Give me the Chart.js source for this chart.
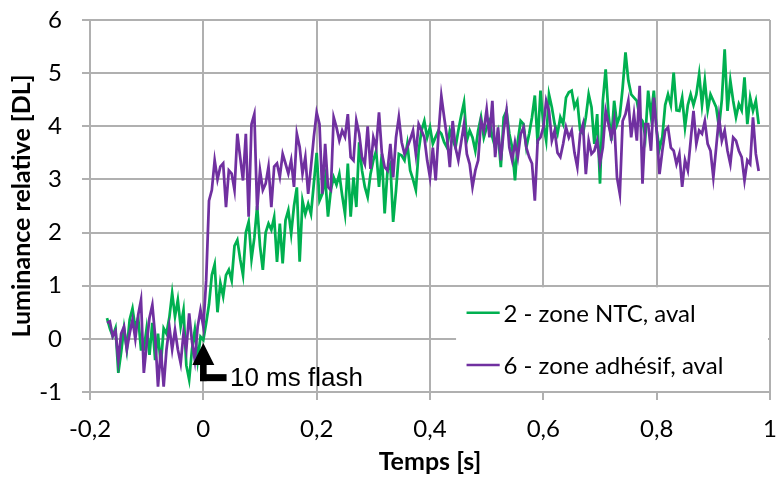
<!DOCTYPE html>
<html><head><meta charset="utf-8">
<script src="https://cdn.jsdelivr.net/npm/chart.js@4/dist/chart.umd.min.js"></script>
<style>html,body{margin:0;padding:0;background:#fff}#wrap{width:776px;height:478px}</style>
</head><body><div id="wrap"><canvas id="c" width="776" height="478"></canvas></div>
<script>
// ---- data ----
const seriesNames = ['2 - zone NTC, aval', '6 - zone adhésif, aval'];
const tStart = -0.17, tStep = 0.005;   // sampling grid of the time axis [s]
const zoneNTC = [
 0.39,0.2,0.05,0.2,-0.64,-0.25,0.2,-0.2,0.36,0.57,0.2,0.4,-0.2,-0.2,0.2,-0.3,0.3,-0.4,0.1,-0.5,0.2,0.1,0.4,0.86,0.42,0.73,0.23,0.54,-0.5,-0.77,-0.2,0.17,-0.4,0.04,-0.02,
 0.3,0.65,1.2,1.4,0.5,1.05,0.8,1.2,1.3,1.1,1.75,1.86,1.5,1.2,2.0,2.2,1.5,1.9,2.5,1.75,1.3,2.0,2.17,2.05,2.29,1.45,2.17,1.42,2.23,2.42,1.98,2.5,2.85,1.45,2.6,2.35,2.54,2.35,2.92,3.5,2.6,2.73,3.04,2.3,2.8,3.04,2.9,
 3.1,2.7,2.35,3.3,2.3,3.04,2.48,3.7,3.17,2.86,2.67,3.1,3.36,3.54,2.86,3.48,2.36,3.17,3.29,2.2,2.79,3.48,3.45,3.36,3.67,3.17,3.0,2.8,3.54,3.92,4.1,3.79,3.98,3.67,3.8,3.92,3.86,3.7,3.6,3.92,3.75,3.6,3.92,4.2,4.45,3.73,3.92,3.79,
 3.54,3.92,4.17,3.79,3.98,4.1,3.8,3.6,3.86,3.23,4.17,4.29,3.86,3.6,2.98,3.73,4.1,4.04,3.6,3.86,4.17,4.58,3.67,4.67,4.04,3.73,4.6,4.36,4.04,3.86,4.17,4.04,4.54,4.64,4.67,4.36,4.48,3.92,3.86,4.17,4.6,4.36,3.67,4.23,2.92,4.48,5.07,4.23,3.73,4.48,4.04,
 4.2,4.73,5.39,4.86,4.6,4.54,4.48,4.17,4.1,3.8,4.67,4.2,4.67,3.92,3.58,3.8,4.4,4.6,4.4,5.01,4.3,4.29,4.54,3.98,4.4,4.6,4.4,4.6,4.98,4.4,4.86,4.3,4.6,4.48,4.36,3.98,4.5,5.45,4.29,4.86,4.48,4.17,4.42,4.3,4.92,4.04,4.54,4.29,4.48,4.04
];
const zoneAdhesif = [
 0.3,0.33,0.05,0.15,-0.4,0.1,0.23,-0.2,0.1,0.36,0.0,0.45,0.73,-0.64,-0.1,0.4,0.64,0.05,-0.9,-0.2,-0.9,-0.2,0.23,-0.2,0.17,-0.2,-0.46,0.1,-0.2,0.48,-0.05,-0.4,0.23,0.54,0.23,
 1.1,2.6,2.8,3.36,3.0,3.24,3.3,2.48,3.17,3.11,2.8,3.86,3.42,2.98,3.86,2.3,4.04,4.23,2.42,3.17,2.8,2.92,3.24,2.48,3.24,3.3,3.05,3.48,3.3,3.11,3.36,2.86,3.86,3.61,3.11,3.42,2.73,3.24,3.8,4.26,4.04,2.73,3.67,2.86,2.8,4.17,3.98,3.73,
 3.92,3.8,4.23,3.42,3.36,4.11,3.86,3.42,3.29,4.0,3.2,3.79,3.6,4.26,3.5,3.23,3.17,3.67,3.04,3.79,4.17,3.7,3.48,3.6,3.75,3.92,3.48,4.04,3.92,3.79,3.36,3.04,3.6,2.98,3.86,4.57,4.17,3.79,3.23,4.1,3.6,3.36,3.7,4.04,3.48,3.29,2.86,
 3.17,3.36,4.1,3.92,4.32,3.79,4.48,3.42,3.98,3.36,3.92,4.29,3.6,3.36,3.7,3.42,3.85,3.98,3.6,3.42,3.3,2.6,3.73,3.79,3.98,4.48,4.29,3.73,3.92,3.5,3.42,3.67,3.98,3.79,3.92,3.5,3.23,3.86,4.04,3.1,3.73,3.48,3.54,3.73,3.3,3.6,4.29,4.04,3.79,4.1,3.04,
 2.73,4.1,4.23,4.48,3.79,4.23,3.73,4.76,2.92,4.04,4.04,3.54,4.54,3.92,3.1,3.54,3.92,3.98,3.6,3.54,3.29,3.48,2.86,3.36,3.17,3.73,4.29,3.67,3.92,3.86,4.1,3.67,3.54,3.04,3.6,4.17,3.73,3.92,3.54,3.29,3.79,3.73,3.54,3.42,2.98,3.36,3.29,4.17,3.48,3.16
];
const temps = zoneNTC.map((_, i) => +(tStart + i * tStep).toFixed(3));
const xTickLabels = ['-0,2', '0', '0,2', '0,4', '0,6', '0,8', '1'];
const yTickLabels = ['-1', '0', '1', '2', '3', '4', '5', '6'];
const xTitle = 'Temps [s]';
const yTitle = 'Luminance relative [DL]';
const flashLabel = '10 ms flash';

// ---- styling ----
const GREEN = '#00B050', PURPLE = '#7030A0', GRID = '#b0b0b0';
const FONT = 'Lato';

const overlay = {
  id: 'overlay',
  beforeDatasetsDraw(chart) {
    const { ctx, scales: { x, y }, chartArea } = chart;
    const l = x.getPixelForValue(0.446), t = y.getPixelForValue(0.97);
    ctx.save();
    ctx.fillStyle = '#fff';
    ctx.fillRect(l, t, chartArea.right - 2 - l, chartArea.bottom - 1 - t);
    ctx.restore();
  },
  afterDatasetsDraw(chart) {
    const { ctx, scales: { x, y } } = chart;
    const x0 = x.getPixelForValue(0);
    const tip = y.getPixelForValue(-0.08), base = y.getPixelForValue(-0.49), elbow = y.getPixelForValue(-0.73);
    const xEnd = x.getPixelForValue(0.041);
    ctx.save();
    ctx.fillStyle = '#000';
    ctx.beginPath();
    ctx.moveTo(x0, tip); ctx.lineTo(x0 - 11, base); ctx.lineTo(x0 + 11, base); ctx.closePath(); ctx.fill();
    ctx.fillRect(x0 - 3.3, base - 1, 6.6, elbow + 3.5 - base + 1);
    ctx.fillRect(x0 - 3.3, elbow - 3.5, xEnd - x0 + 3.3, 7);
    ctx.font = '26px "Liberation Sans", Arial, sans-serif';
    ctx.textBaseline = 'middle';
    ctx.fillText(flashLabel, x.getPixelForValue(0.047), elbow + 1);
    ctx.restore();
  },
  afterDraw(chart) {
    const { ctx, scales: { x, y } } = chart;
    const items = [[seriesNames[0], GREEN, 0.49], [seriesNames[1], PURPLE, -0.49]];
    const lx0 = x.getPixelForValue(0.4645), lx1 = x.getPixelForValue(0.523), tx = x.getPixelForValue(0.5295);
    ctx.save();
    ctx.font = '24px ' + FONT;
    ctx.textBaseline = 'middle';
    items.forEach(([name, col, v]) => {
      const py = y.getPixelForValue(v);
      ctx.strokeStyle = col; ctx.lineWidth = 2.5;
      ctx.beginPath(); ctx.moveTo(lx0, py); ctx.lineTo(lx1, py); ctx.stroke();
      ctx.fillStyle = '#000';
      ctx.fillText(name, tx, py + 1);
    });
    ctx.restore();
  }
};

function noPad(s) { s.paddingTop = 0; s.paddingBottom = 0; s.paddingLeft = 0; s.paddingRight = 0; }

function build() {
  const ctx = document.getElementById('c').getContext('2d');
  new Chart(ctx, {
    type: 'line',
    data: {
      datasets: [
        { label: seriesNames[0], data: temps.map((t, i) => ({ x: t, y: zoneNTC[i] })), borderColor: GREEN, borderWidth: 2.75, pointRadius: 0, tension: 0, order: 1 },
        { label: seriesNames[1], data: temps.map((t, i) => ({ x: t, y: zoneAdhesif[i] })), borderColor: PURPLE, borderWidth: 2.75, pointRadius: 0, tension: 0, order: 0 }
      ]
    },
    options: {
      responsive: false, animation: false, devicePixelRatio: 1,
      layout: { padding: { top: 20, right: 6, left: 0, bottom: 0 } },
      plugins: { legend: { display: false }, tooltip: { enabled: false } },
      scales: {
        x: {
          type: 'linear', min: -0.2, max: 1,
          ticks: { stepSize: 0.2, color: '#000', font: { family: FONT, size: 24 }, padding: 15, maxRotation: 0,
                   callback: (v, i) => xTickLabels[i] },
          grid: { color: GRID, lineWidth: 2, tickLength: 8, tickColor: GRID },
          border: { color: GRID, width: 2 },
          title: { display: true, text: xTitle, color: '#000', font: { family: FONT, size: 25, weight: 'bold' }, padding: { top: 0, bottom: 1 } },
          afterFit: s => { s.height = 86; noPad(s); }
        },
        y: {
          min: -1, max: 6,
          ticks: { stepSize: 1, color: '#000', font: { family: FONT, size: 24 }, padding: 20,
                   callback: (v, i) => yTickLabels[i] },
          grid: { color: GRID, lineWidth: 2, tickLength: 8, tickColor: GRID },
          border: { color: GRID, width: 2 },
          title: { display: true, text: yTitle, color: '#000', font: { family: FONT, size: 25, weight: 'bold' }, padding: { top: 7, bottom: 0 } },
          afterFit: s => { s.width = 90; noPad(s); }
        }
      }
    },
    plugins: [overlay]
  });
}
Promise.all([document.fonts.load('24px Lato'), document.fonts.load('bold 25px Lato'), document.fonts.load('26px "Liberation Sans"')])
  .then(build, build);
</script></body></html>
